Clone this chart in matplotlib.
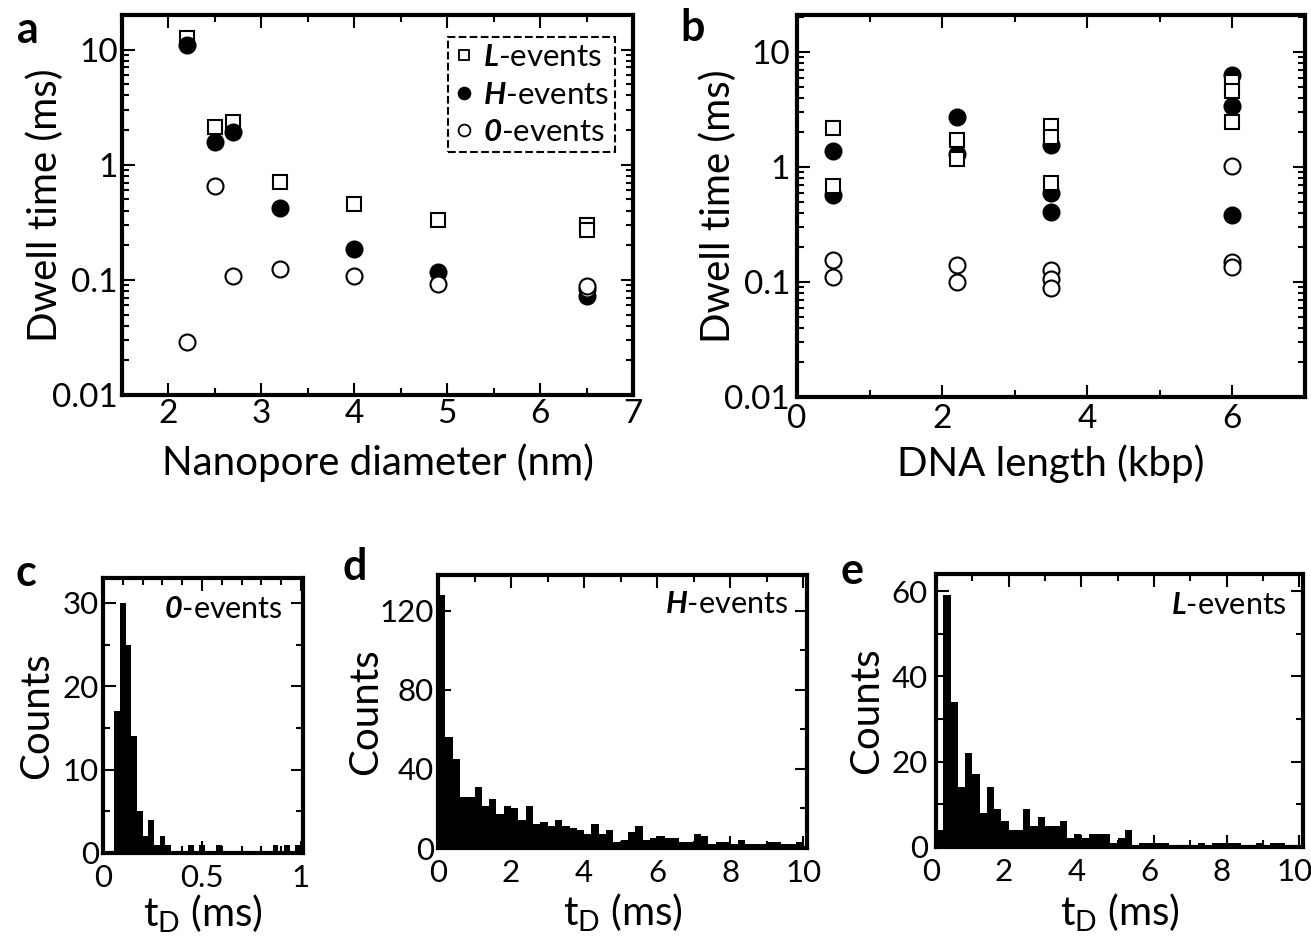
import numpy as np
import matplotlib
matplotlib.use("Agg")
import matplotlib.pyplot as plt
import matplotlib.transforms as mtransforms
from matplotlib.ticker import MultipleLocator, LogLocator, NullFormatter, FixedLocator, FixedFormatter, FuncFormatter
from matplotlib.lines import Line2D

plt.rcParams['font.family'] = ['Lato', 'DejaVu Sans']
plt.rcParams['mathtext.fontset'] = 'custom'
plt.rcParams['mathtext.rm'] = 'Lato'
plt.rcParams['mathtext.it'] = 'Lato:italic'
plt.rcParams['mathtext.bf'] = 'Lato:bold'
plt.rcParams['mathtext.bfit'] = 'Lato:italic:bold'

# === DATA ===
# panel a: dwell time vs nanopore diameter
diam_L = [2.2, 2.5, 2.7, 3.2, 4.0, 4.9, 6.5, 6.5]
dwell_L_a = [12.6, 2.13, 2.35, 0.71, 0.46, 0.33, 0.30, 0.27]
diam_H = [2.2, 2.5, 2.7, 3.2, 4.0, 4.9, 6.5]
dwell_H_a = [10.9, 1.57, 1.92, 0.42, 0.186, 0.117, 0.073]
diam_0 = [2.2, 2.5, 2.7, 3.2, 4.0, 4.9, 6.5, 6.5]
dwell_0_a = [0.029, 0.66, 0.109, 0.125, 0.109, 0.092, 0.084, 0.088]

# panel b: dwell time vs DNA length
dna_L = [0.5, 0.5, 2.2, 2.2, 3.5, 3.5, 3.5, 6, 6, 6]
dwell_L_b = [2.18, 0.68, 1.71, 1.18, 2.26, 1.82, 0.72, 5.5, 4.6, 2.46]
dna_H = [0.5, 0.5, 2.2, 2.2, 3.5, 3.5, 3.5, 6, 6, 6]
dwell_H_b = [1.38, 0.57, 2.72, 1.29, 1.54, 0.59, 0.41, 6.3, 3.37, 0.385]
dna_0 = [0.5, 0.5, 2.2, 2.2, 3.5, 3.5, 3.5, 6, 6, 6]
dwell_0_b = [0.156, 0.110, 0.14, 0.10, 0.126, 0.107, 0.089, 1.03, 0.149, 0.135]

# panel c: 0-events histogram (35 bins over 0..1 ms)
edges_c = np.linspace(0, 1, 36)
counts_c = [0, 0, 17, 30, 25, 14, 5, 2, 4, 1, 2, 1, 0, 0, 0, 1, 0, 1, 0, 0,
            1, 0, 0, 0, 0, 0, 0, 0, 0, 0, 1, 0, 1, 0, 1]

# panel d: H-events histogram (50 bins over 0..10 ms)
edges_d = np.linspace(0, 10, 51)
counts_d = [128, 56, 45, 26, 26, 31, 21, 25, 17, 21, 20, 14, 21, 12, 13, 11, 14, 11, 10, 9,
            7, 12, 7, 9, 3, 4, 8, 11, 4, 5, 6, 5, 5, 3, 3, 7, 6, 2, 3, 3,
            2, 4, 2, 2, 2, 3, 3, 2, 2, 3]

# panel e: L-events histogram (50 bins over 0..10 ms)
edges_e = np.linspace(0, 10, 51)
counts_e = [4, 59, 34, 14, 22, 17, 8, 14, 9, 6, 4, 4, 9, 5, 7, 5, 5, 6, 2, 3,
            2, 3, 3, 3, 1, 2, 4, 0, 1, 1, 1, 1, 0, 0, 0, 0, 1, 0, 1, 1,
            1, 1, 0, 0, 1, 0, 1, 1, 0, 0]

log_ticks = [0.01, 0.1, 1, 10]
log_labels = ["0.01", "0.1", "1", "10"]

W, H = 1311, 936
fig = plt.figure(figsize=(W / 100, H / 100), dpi=100)


def box(l, t, r, b):
    return [l / W, 1 - b / H, (r - l) / W, (b - t) / H]


def style_axes(ax, labelsize, xpad=3, ypad=3):
    for s in ax.spines.values():
        s.set_linewidth(3)
    ax.tick_params(which='both', direction='in', top=True, right=True, width=1.5)
    ax.tick_params(which='major', length=9, labelsize=labelsize)
    ax.tick_params(axis='x', which='major', pad=xpad)
    ax.tick_params(axis='y', which='major', pad=ypad)
    ax.tick_params(which='minor', length=5)


def log_y(ax, top):
    ax.set_yscale('log')
    ax.set_ylim(0.01, top)
    ax.yaxis.set_major_locator(FixedLocator(log_ticks))
    ax.yaxis.set_major_formatter(FixedFormatter(log_labels))
    ax.yaxis.set_minor_locator(LogLocator(base=10, subs=np.arange(2, 10)))
    ax.yaxis.set_minor_formatter(NullFormatter())


sq = dict(marker='s', ms=10, mfc='white', mec='black', mew=1.5, ls='none')
fc = dict(marker='o', ms=11.5, mfc='black', mec='black', mew=1.5, ls='none')
oc = dict(marker='o', ms=11.5, mfc='white', mec='black', mew=1.5, ls='none')

# === a ===
ax_a = fig.add_axes(box(122, 15, 633, 395))
ax_a.plot(diam_L, dwell_L_a, **sq)
ax_a.plot(diam_H, dwell_H_a, **fc)
ax_a.plot(diam_0, dwell_0_a, **oc)
log_y(ax_a, 20)
ax_a.set_xlim(1.5, 7)
ax_a.xaxis.set_major_locator(MultipleLocator(1))
ax_a.xaxis.set_minor_locator(MultipleLocator(0.5))
style_axes(ax_a, 24)
ax_a.set_xlabel("Nanopore diameter (nm)", fontsize=29, va='center')
ax_a.xaxis.set_label_coords(0.5, -0.179)
ax_a.set_ylabel("Dwell time (ms)", fontsize=29, va='center')
ax_a.yaxis.set_label_coords(-0.151, 0.5)

handles = [
    Line2D([], [], marker='s', ms=7.5, mfc='white', mec='black', mew=1.3, ls='none'),
    Line2D([], [], marker='o', ms=8.5, mfc='black', mec='black', mew=1.3, ls='none'),
    Line2D([], [], marker='o', ms=8.5, mfc='white', mec='black', mew=1.3, ls='none'),
]
labels = [r"$\mathbfit{L}$-events", r"$\mathbfit{H}$-events", r"$\mathbfit{0}$-events"]
leg = ax_a.legend(handles, labels, loc='upper right', bbox_to_anchor=(0.965, 0.942),
                  borderaxespad=0, fontsize=22.5, handlelength=0.6, handletextpad=0.3,
                  labelspacing=0.3, borderpad=0.2, fancybox=False, framealpha=1)
leg.get_frame().set_edgecolor('black')
leg.get_frame().set_linestyle('--')
leg.get_frame().set_linewidth(1.5)

# === b ===
ax_b = fig.add_axes(box(797, 15, 1305, 397))
ax_b.plot(dna_H, dwell_H_b, **fc)
ax_b.plot(dna_0, dwell_0_b, **oc)
ax_b.plot(dna_L, dwell_L_b, **sq)
log_y(ax_b, 21)
ax_b.set_xlim(0, 7)
ax_b.xaxis.set_major_locator(MultipleLocator(2))
ax_b.xaxis.set_minor_locator(MultipleLocator(1))
style_axes(ax_b, 24, xpad=5, ypad=5)
ax_b.set_xlabel("DNA length (kbp)", fontsize=29, va='center')
ax_b.xaxis.set_label_coords(0.5, -0.174)
ax_b.set_ylabel("Dwell time (ms)", fontsize=29, va='center')
ax_b.yaxis.set_label_coords(-0.156, 0.5)

# === histograms ===
hists = [
    (box(103, 578, 303, 853), edges_c, counts_c, (0, 1.01), 33, 0.5, 0.1, 10, 5,
     r"$\mathbfit{0}$-events", 0.90, 0.887, -0.33, -0.222, 0, 3),
    (box(438, 575, 807, 848), edges_d, counts_d, (0, 10.1), 138, 2, 1, 40, 20,
     r"$\mathbfit{H}$-events", 0.948, 0.894, -0.195, -0.237, 0, 3),
    (box(936, 574, 1303, 847), edges_e, counts_e, (0, 10.1), 64, 2, 1, 20, 10,
     r"$\mathbfit{L}$-events", 0.956, 0.886, -0.19, -0.24, -5, 6),
]
for pos, edges, counts, xlim, ytop, xmaj, xmin, ymaj, ymin, tag, tx, ty, ylx, xly, shift, ypad in hists:
    ax = fig.add_axes(pos)
    ax.stairs(counts, edges, fill=True, color='black')
    ax.set_xlim(*xlim)
    ax.set_ylim(0, ytop)
    ax.xaxis.set_major_locator(MultipleLocator(xmaj))
    ax.xaxis.set_minor_locator(MultipleLocator(xmin))
    ax.yaxis.set_major_locator(MultipleLocator(ymaj))
    ax.yaxis.set_minor_locator(MultipleLocator(ymin))
    ax.xaxis.set_major_formatter(FuncFormatter(lambda v, p: f"{v:g}"))
    style_axes(ax, 22.5, xpad=8, ypad=ypad)
    if shift:
        offset = mtransforms.ScaledTranslation(shift / 100, 0, fig.dpi_scale_trans)
        for lbl in ax.get_xticklabels():
            lbl.set_transform(lbl.get_transform() + offset)
    ax.text(tx, ty, tag, transform=ax.transAxes, ha='right', va='center', fontsize=22)
    ax.set_ylabel("Counts", fontsize=29, va='center')
    ax.yaxis.set_label_coords(ylx, 0.5)
    ax.set_xlabel(r"$\mathregular{t_D}$ (ms)", fontsize=29, va='center')
    ax.xaxis.set_label_coords(0.5, xly)

# panel letters
for letter, x, y in [("a", 28, 30), ("b", 693, 28), ("c", 26, 573), ("d", 355, 567), ("e", 852, 571)]:
    fig.text(x / W, 1 - y / H, letter, fontsize=31, fontweight='bold', ha='center', va='center')

fig.savefig("out.png", dpi=100)
